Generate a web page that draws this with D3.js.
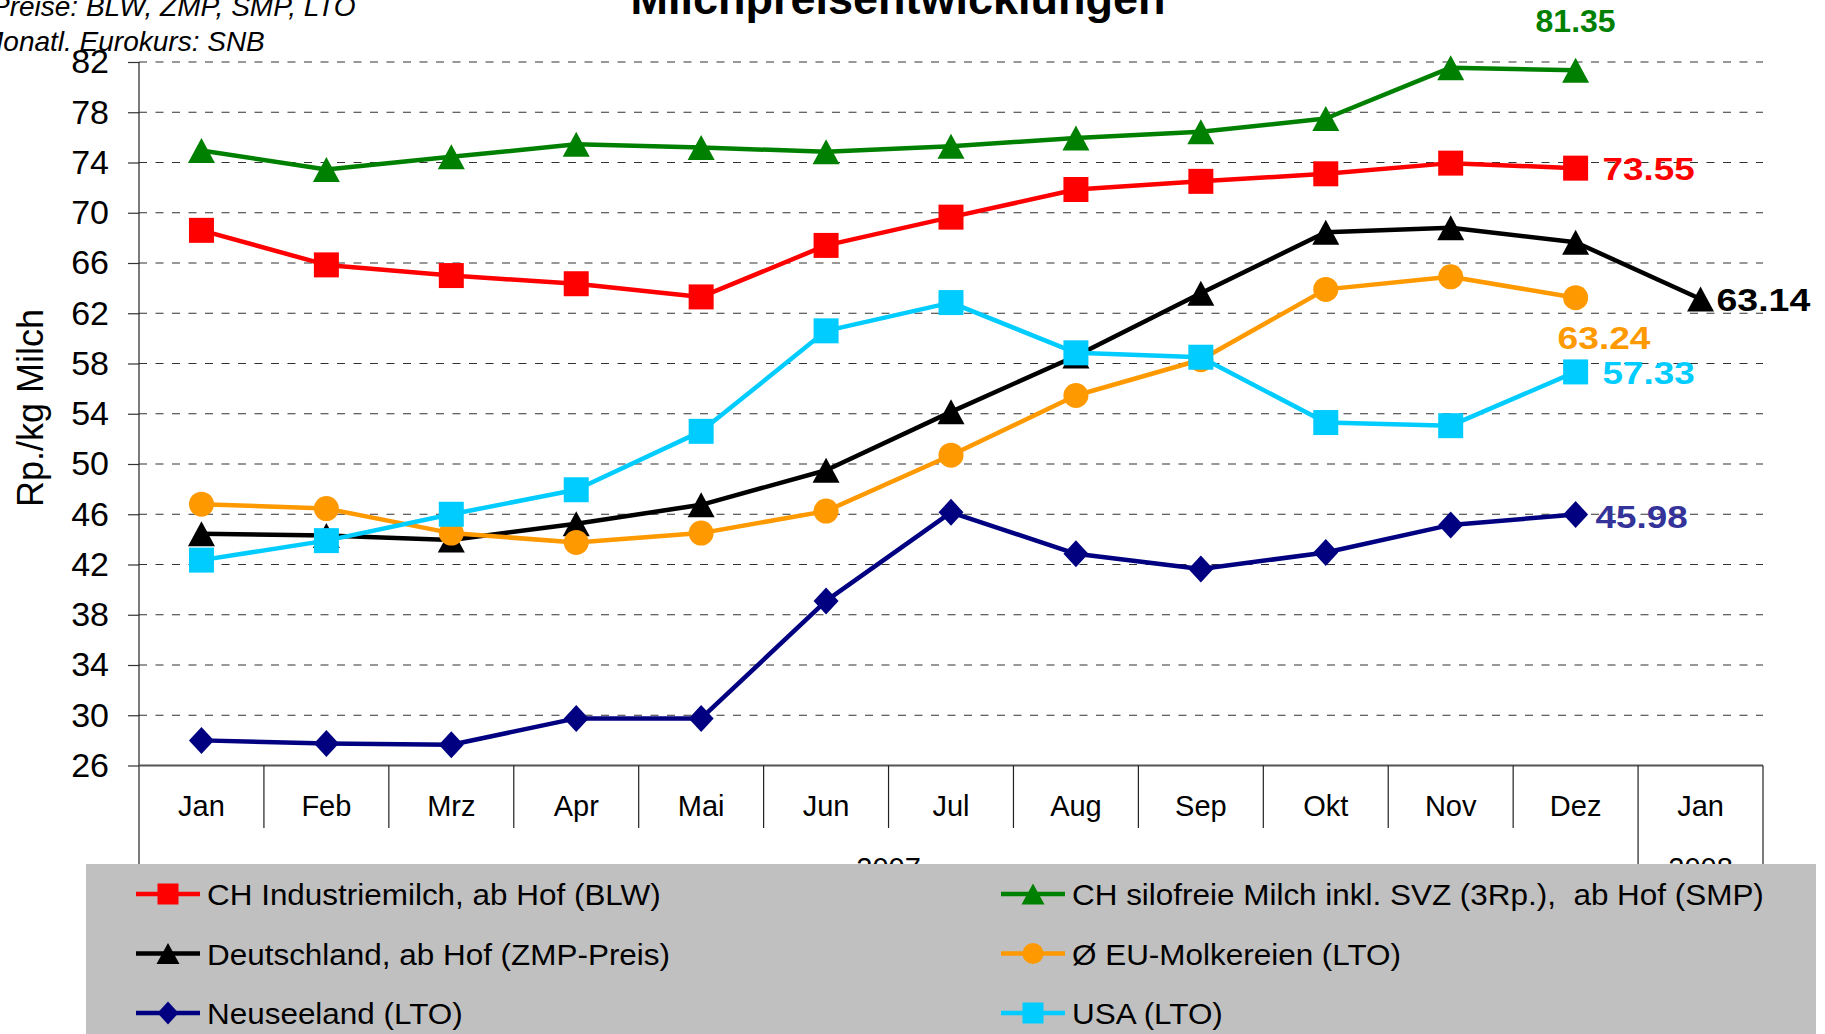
<!DOCTYPE html>
<html>
<head>
<meta charset="utf-8">
<script src="https://cdn.jsdelivr.net/npm/d3@7"></script>
<style>
  body { margin: 0; background: #fff; }
  text { font-family: "Liberation Sans", Arial, sans-serif; }
</style>
</head>
<body>
<svg id="chart"></svg>
<script>
const months = ["Jan", "Feb", "Mrz", "Apr", "Mai", "Jun", "Jul", "Aug", "Sep", "Okt", "Nov", "Dez", "Jan"];
const years = [{ label: "2007", from: 0, to: 12 }, { label: "2008", from: 12, to: 13 }];
const yTicks = [26, 30, 34, 38, 42, 46, 50, 54, 58, 62, 66, 70, 74, 78, 82];

const chIndustrie = [68.6, 65.85, 65.0, 64.35, 63.3, 67.4, 69.65, 71.85, 72.5, 73.1, 73.95, 73.55];
const chSilofrei = [74.95, 73.45, 74.45, 75.45, 75.2, 74.85, 75.3, 75.95, 76.45, 77.5, 81.55, 81.35];
const deutschland = [44.45, 44.3, 43.95, 45.25, 46.75, 49.5, 54.15, 58.6, 63.6, 68.45, 68.8, 67.65, 63.14];
const euMolkereien = [46.8, 46.45, 44.5, 43.75, 44.5, 46.25, 50.7, 55.45, 58.3, 63.9, 64.9, 63.24];
const neuseeland = [28.0, 27.75, 27.65, 29.75, 29.75, 39.1, 46.15, 42.85, 41.65, 42.95, 45.15, 45.98];
const usa = [42.35, 43.9, 46.0, 47.95, 52.6, 60.6, 62.85, 58.85, 58.5, 53.3, 53.05, 57.33];

const series = [
  { name: "CH Industriemilch, ab Hof (BLW)", values: chIndustrie, color: "#ff0000", marker: "square" },
  { name: "CH silofreie Milch inkl. SVZ (3Rp.),  ab Hof (SMP)", values: chSilofrei, color: "#008000", marker: "triangle" },
  { name: "Deutschland, ab Hof (ZMP-Preis)", values: deutschland, color: "#000000", marker: "triangle" },
  { name: "Ø EU-Molkereien (LTO)", values: euMolkereien, color: "#ff9900", marker: "circle" },
  { name: "Neuseeland (LTO)", values: neuseeland, color: "#000080", marker: "diamond" },
  { name: "USA (LTO)", values: usa, color: "#00ccff", marker: "square" }
];

// end labels: offset from the last point, text width stretch
const endLabels = [
  { s: 0, dx: 27, dy: 12, anchor: "start", color: "#ff0000", stretch: 1.15 },
  { s: 1, dx: 0, dy: -38, anchor: "middle", color: "#008000", stretch: 1.0 },
  { s: 2, dx: 16, dy: 12, anchor: "start", color: "#000000", stretch: 1.17 },
  { s: 3, dx: -18, dy: 51, anchor: "start", color: "#ff9900", stretch: 1.16 },
  { s: 4, dx: 20, dy: 13, anchor: "start", color: "#333399", stretch: 1.15 },
  { s: 5, dx: 27, dy: 12, anchor: "start", color: "#00ccff", stretch: 1.15 }
];

const W = 1825, H = 1034;
const plotLeft = 139, plotRight = 1763, plotTop = 62, plotBottom = 765.5;
const legendTop = 864;

const svg = d3.select("#chart").attr("width", W).attr("height", H);
svg.append("rect").attr("width", W).attr("height", H).attr("fill", "#fff");

const x = d3.scaleBand().domain(d3.range(months.length)).range([plotLeft, plotRight]);
const y = d3.scaleLinear().domain([26, 82]).range([plotBottom, plotTop]);
const cx = i => x(i) + x.bandwidth() / 2;

function markerPath(type, s) {
  const h = s / 2;
  if (type === "square") return `M${-h},${-h}h${s}v${s}h${-s}Z`;
  if (type === "triangle") return `M0,${-h}L${h + 1},${h}L${-h - 1},${h}Z`;
  if (type === "diamond") return `M0,${-h - 1}L${h},0L0,${h + 1}L${-h},0Z`;
  return d3.arc()({ innerRadius: 0, outerRadius: h, startAngle: 0, endAngle: 2 * Math.PI });
}

function stretch(sel, k) {
  sel.each(function () {
    const w = this.getComputedTextLength();
    d3.select(this).attr("textLength", w * k).attr("lengthAdjust", "spacingAndGlyphs");
  });
}

// gridlines
svg.append("g")
  .selectAll("line")
  .data(yTicks.slice(1))
  .join("line")
  .attr("x1", plotLeft).attr("x2", plotRight)
  .attr("y1", d => y(d)).attr("y2", d => y(d))
  .attr("stroke", "#333")
  .attr("stroke-width", 1.2)
  .attr("stroke-dasharray", "8,8.5");

// y axis
const yAxis = svg.append("g")
  .attr("transform", `translate(${plotLeft},0)`)
  .call(d3.axisLeft(y).tickValues(yTicks).tickSize(11).tickPadding(19))
  .call(g => g.select(".domain").remove())
  .call(g => g.selectAll(".tick line").attr("stroke", "#333").attr("stroke-width", 1.2));
yAxis.selectAll("text")
  .attr("fill", "#000")
  .style("font-size", "34px")
  .style("font-family", "'Liberation Sans', Arial, sans-serif");

svg.append("line")
  .attr("x1", plotLeft).attr("x2", plotLeft)
  .attr("y1", plotTop).attr("y2", legendTop)
  .attr("stroke", "#222").attr("stroke-width", 1.2);

// x axis
svg.append("line")
  .attr("x1", plotLeft).attr("x2", plotRight)
  .attr("y1", plotBottom).attr("y2", plotBottom)
  .attr("stroke", "#555").attr("stroke-width", 2);

const xAxis = svg.append("g")
  .attr("transform", `translate(0,${plotBottom})`)
  .call(d3.axisBottom(x).tickFormat(i => months[i]).tickSize(0).tickPadding(30))
  .call(g => g.select(".domain").remove());
xAxis.selectAll("text")
  .attr("fill", "#000")
  .style("font-size", "29px")
  .style("font-family", "'Liberation Sans', Arial, sans-serif");

// month separators
const bounds = d3.range(1, months.length);
svg.append("g")
  .selectAll("line")
  .data(bounds)
  .join("line")
  .attr("x1", d => x(d)).attr("x2", d => x(d))
  .attr("y1", plotBottom)
  .attr("y2", d => years.some(yr => yr.from === d) ? legendTop : 828)
  .attr("stroke", "#222").attr("stroke-width", 1.2);
svg.append("line")
  .attr("x1", plotRight).attr("x2", plotRight)
  .attr("y1", plotBottom).attr("y2", legendTop)
  .attr("stroke", "#222").attr("stroke-width", 1.2);

// year labels (mostly hidden by the legend)
svg.append("g")
  .selectAll("text")
  .data(years)
  .join("text")
  .attr("x", d => (x(d.from) + x(d.to - 1) + x.bandwidth()) / 2)
  .attr("y", 878)
  .attr("text-anchor", "middle")
  .style("font-size", "29px")
  .text(d => d.label);

// lines + markers
const line = d3.line().x((d, i) => cx(i)).y(d => y(d));
series.forEach(s => {
  svg.append("path")
    .datum(s.values)
    .attr("fill", "none")
    .attr("stroke", s.color)
    .attr("stroke-width", 4.5)
    .attr("stroke-linejoin", "round")
    .attr("d", line);
});
series.forEach(s => {
  svg.append("g")
    .selectAll("path")
    .data(s.values)
    .join("path")
    .attr("transform", (d, i) => `translate(${cx(i)},${y(d)})`)
    .attr("d", markerPath(s.marker, 25))
    .attr("fill", s.color);
});

// end value labels
const last = s => s.values[s.values.length - 1];
svg.append("g")
  .selectAll("text")
  .data(endLabels)
  .join("text")
  .attr("x", d => cx(series[d.s].values.length - 1) + d.dx)
  .attr("y", d => y(last(series[d.s])) + d.dy)
  .attr("text-anchor", d => d.anchor)
  .attr("fill", d => d.color)
  .style("font-size", "32px")
  .style("font-weight", "bold")
  .text(d => d3.format(".2f")(last(series[d.s])))
  .each(function (d) { stretch(d3.select(this), d.stretch); });

// title and notes
svg.append("text")
  .attr("x", 898).attr("y", 14)
  .attr("text-anchor", "middle")
  .style("font-size", "45px")
  .style("font-weight", "bold")
  .text("Milchpreisentwicklungen");

svg.append("text")
  .attr("x", -9).attr("y", 16)
  .style("font-size", "28px")
  .style("font-style", "italic")
  .text("Preise: BLW, ZMP, SMP, LTO");
svg.append("text")
  .attr("x", -20).attr("y", 51)
  .style("font-size", "28px")
  .style("font-style", "italic")
  .text("Monatl. Eurokurs: SNB");

svg.append("text")
  .attr("transform", `translate(43,408) rotate(-90)`)
  .attr("text-anchor", "middle")
  .style("font-size", "36px")
  .text("Rp./kg Milch");

// legend
svg.append("rect")
  .attr("x", 86).attr("y", legendTop)
  .attr("width", 1730).attr("height", H - legendTop)
  .attr("fill", "#c0c0c0");

const legendOrder = [0, 1, 2, 3, 4, 5];
const legend = svg.append("g")
  .selectAll("g")
  .data(legendOrder)
  .join("g")
  .attr("transform", (d, i) => `translate(${i % 2 === 0 ? 136 : 1001},${894 + Math.floor(i / 2) * 59.5})`);
legend.append("line")
  .attr("x1", 0).attr("x2", 64)
  .attr("stroke", d => series[d].color)
  .attr("stroke-width", 4.5);
legend.append("path")
  .attr("transform", "translate(32,0)")
  .attr("d", d => markerPath(series[d].marker, 21))
  .attr("fill", d => series[d].color);
legend.append("text")
  .attr("x", 71).attr("y", 11)
  .style("font-size", "30px")
  .style("white-space", "pre")
  .text(d => series[d].name)
  .call(stretch, 1.048);
</script>
</body>
</html>
